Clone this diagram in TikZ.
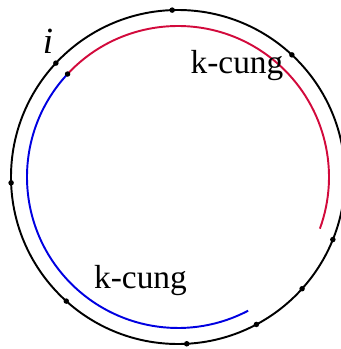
\documentclass[tikz,border=0pt]{standalone}
\usepackage{fontspec}
\setmainfont{Liberation Serif}
\usepackage{tikz}
\usetikzlibrary{positioning,calc}
\definecolor{arcRed}{RGB}{210,10,60}
\definecolor{arcBlue}{RGB}{0,0,225}

\begin{document}
\begin{tikzpicture}[scale=1.0,
    lbl/.style={font=\fontsize{19}{22}\selectfont, anchor=base, inner sep=0pt},
    vdot/.style={fill, circle, inner sep=0pt, minimum size=0.11cm}]
    \useasboundingbox (-3.56,-3.44) rectangle (3.26,3.54);
    \coordinate (O) at (0,0);
    % Outer circle
    \draw[line width=1.1pt] (O) circle (3.34);
    \foreach \a [count=\n] in {92,47,-22,-42,-62,-87,-132,182,137}
      \node[vdot] (v\n) at (\a:3.34) {};
    % Red k-arc
    \draw[arcRed, line width=1.1pt] (137:3.02) arc (137:-20:3.02);
    % Blue k-arc
    \draw[arcBlue, line width=1.1pt] (137:3.02) arc (137:297.7:3.02);
    \node[vdot] (s) at (137:3.02) {};
    % Labels
    \node[lbl, font=\fontsize{21}{24}\selectfont] (i) at (-2.6,2.48) {\textit{i}};
    \node[lbl] (kred) at (1.18,2.08) {k-cung};
    \node[lbl] (kblue) at (-0.75,-2.22) {k-cung};
  \end{tikzpicture}
\end{document}
